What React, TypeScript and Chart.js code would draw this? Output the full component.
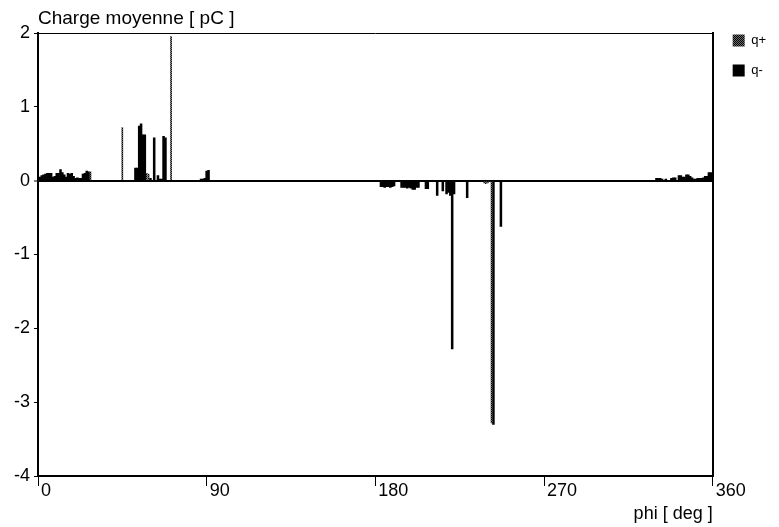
import React, { useEffect, useRef } from 'react';
import { Chart, registerables } from 'chart.js';

Chart.register(...registerables);

const chartTitle = 'Charge moyenne [ pC ]';
const xAxisTitle = 'phi [ deg ]';
const seriesLabels = ['q+', 'q-'];
const xTickValues = [0, 90, 180, 270, 360];
const yTickValues = [-4, -3, -2, -1, 0, 1, 2];

// q+ (dithered) bars: phase [deg] and mean charge [pC]
const qPlusPhi = [28, 45, 58, 59, 71, 238, 239, 240, 242];
const qPlusCharge = [0.12, 0.72, 0.1, 0.09, 1.95, -0.03, -0.04, -0.03, -3.28];

// q- (solid) bars, first positive lobe
const qMinusPhiA = [1, 2, 3, 4, 5, 6, 7, 8, 9, 10, 11, 12, 13, 14, 15, 16, 17, 18, 19, 20, 21, 22, 23, 24, 25, 26, 27];
const qMinusChargeA = [0.05, 0.07, 0.08, 0.09, 0.1, 0.1, 0.1, 0.05, 0.06, 0.1, 0.1, 0.15, 0.11, 0.08, 0.05, 0.1, 0.09, 0.1, 0.06, 0.03, 0.04, 0.03, 0.03, 0.09, 0.1, 0.13, 0.12];

const qMinusPhiB = [52, 53, 54, 55, 56, 57, 60, 62, 64, 65, 66, 67, 68, 87, 88, 89, 90, 91];
const qMinusChargeB = [0.17, 0.17, 0.74, 0.77, 0.62, 0.62, 0.03, 0.58, 0.07, 0.02, 0.02, 0.6, 0.58, 0.02, 0.02, 0.03, 0.13, 0.14];

// negative lobe
const qMinusPhiC = [183, 184, 185, 186, 187, 188, 189, 190, 194, 195, 196, 197, 198, 199, 200, 201, 202, 203, 207, 208, 213, 216, 218, 219, 220, 221, 222, 229, 243, 247];
const qMinusChargeC = [-0.08, -0.08, -0.09, -0.08, -0.08, -0.09, -0.08, -0.07, -0.09, -0.09, -0.09, -0.1, -0.09, -0.1, -0.12, -0.12, -0.09, -0.09, -0.11, -0.11, -0.2, -0.14, -0.18, -0.16, -0.2, -2.28, -0.18, -0.23, -3.3, -0.62];

// last positive lobe
const qMinusPhiD = [330, 331, 332, 333, 335, 338, 339, 340, 342, 343, 344, 345, 346, 347, 348, 349, 350, 351, 352, 353, 354, 355, 356, 357, 358, 359];
const qMinusChargeD = [0.03, 0.03, 0.03, 0.02, 0.02, 0.03, 0.04, 0.04, 0.07, 0.07, 0.05, 0.05, 0.08, 0.08, 0.06, 0.04, 0.02, 0.02, 0.03, 0.03, 0.03, 0.04, 0.06, 0.06, 0.11, 0.11];

const FONT = '"Liberation Sans", Arial, sans-serif';

function toPoints(xs: number[], ys: number[]) {
  return xs.map((x, i) => ({ x, y: ys[i] }));
}

function makePattern(): CanvasPattern | string {
  const c = document.createElement('canvas');
  c.width = 2;
  c.height = 2;
  const g = c.getContext('2d');
  if (!g) return '#444';
  g.fillStyle = '#6e6e6e';
  g.fillRect(0, 0, 2, 2);
  g.fillStyle = '#000';
  g.fillRect(0, 0, 1, 1);
  g.fillRect(1, 1, 1, 1);
  return g.createPattern(c, 'repeat') || '#444';
}

export default function App() {
  const ref = useRef<HTMLCanvasElement | null>(null);

  useEffect(() => {
    const canvas = ref.current;
    if (!canvas) return;
    const pattern = makePattern();
    const qMinusPoints = [
      ...toPoints(qMinusPhiA, qMinusChargeA),
      ...toPoints(qMinusPhiB, qMinusChargeB),
      ...toPoints(qMinusPhiC, qMinusChargeC),
      ...toPoints(qMinusPhiD, qMinusChargeD),
    ];
    const tickFont = { family: FONT, size: 18, weight: 'normal' as const };

    const chart = new Chart(canvas, {
      type: 'bar',
      data: {
        datasets: [
          {
            label: seriesLabels[0],
            data: toPoints(qPlusPhi, qPlusCharge) as any,
            backgroundColor: pattern as any,
            borderWidth: 0,
            barThickness: 1,
            grouped: false,
          } as any,
          {
            label: seriesLabels[1],
            data: qMinusPoints as any,
            backgroundColor: '#000',
            borderWidth: 0,
            barPercentage: 1,
            categoryPercentage: 1,
            grouped: false,
          } as any,
        ],
      },
      options: {
        animation: false,
        responsive: false,
        events: [],
        layout: { padding: { top: 0, left: 0, right: 3, bottom: 0 } },
        plugins: {
          title: {
            display: true,
            text: chartTitle,
            align: 'start',
            fullSize: false,
            color: '#000',
            font: { family: FONT, size: 19, weight: 'normal' },
            padding: { top: 7, bottom: 3.2 },
          },
          legend: {
            position: 'right',
            align: 'start',
            title: { display: true, text: ' ', padding: 2.5, font: { size: 10 } },
            labels: {
              boxWidth: 12,
              boxHeight: 12,
              padding: 17,
              color: '#000',
              font: { family: FONT, size: 13 },
            },
          },
          tooltip: { enabled: false },
        },
        scales: {
          x: {
            type: 'linear',
            position: 'bottom',
            min: 0,
            max: 360,
            offset: false,
            afterBuildTicks: (s: any) => {
              s.ticks = xTickValues.map((v) => ({ value: v }));
            },
            afterFit: (s: any) => {
              s.height = 51;
            },
            grid: { offset: false, drawOnChartArea: false, tickLength: 10, tickColor: '#000', tickWidth: 1 },
            border: { display: true, color: '#000', width: 2 },
            ticks: {
              align: 'start',
              labelOffset: 3,
              padding: -6,
              maxRotation: 0,
              autoSkip: false,
              color: '#000',
              font: tickFont,
            },
            title: {
              display: true,
              text: xAxisTitle,
              align: 'end',
              color: '#000',
              font: tickFont,
              padding: { top: 0, bottom: 2 },
            },
          },
          y: {
            type: 'linear',
            min: -4,
            max: 2,
            afterBuildTicks: (s: any) => {
              s.ticks = yTickValues.map((v) => ({ value: v }));
            },
            afterFit: (s: any) => {
              s.width = 38;
            },
            grid: {
              color: (ctx: any) => (ctx.tick && ctx.tick.value === 0 ? '#000' : 'rgba(0,0,0,0)'),
              lineWidth: (ctx: any) => (ctx.tick && ctx.tick.value === 0 ? 2 : 1),
              tickLength: 4,
              tickColor: '#000',
              tickWidth: 1,
            },
            border: { display: true, color: '#000', width: 2 },
            ticks: { padding: 4, color: '#000', font: tickFont },
          },
          x2: {
            type: 'linear',
            position: 'top',
            min: 0,
            max: 360,
            afterFit: (s: any) => {
              s.height = 0;
            },
            grid: { drawOnChartArea: false, drawTicks: false },
            ticks: { display: false },
            border: { display: true, color: '#000', width: 1 },
          },
          y2: {
            type: 'linear',
            position: 'right',
            min: 0,
            max: 1,
            afterFit: (s: any) => {
              s.width = 3;
            },
            grid: { drawOnChartArea: false, drawTicks: false },
            ticks: { display: false },
            border: { display: true, color: '#000', width: 2 },
          },
        },
      } as any,
    });

    return () => {
      chart.destroy();
    };
  }, []);

  return (
    <div style={{ position: 'fixed', left: 0, top: 0, width: 779, height: 527, background: '#fff' }}>
      <canvas ref={ref} width={779} height={527} style={{ display: 'block' }} />
    </div>
  );
}
